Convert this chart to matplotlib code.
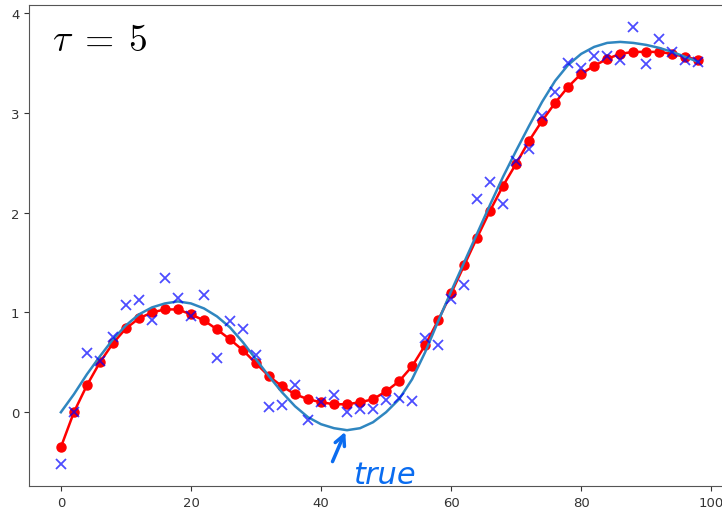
import matplotlib
matplotlib.use('Agg')
import matplotlib.pyplot as plt

# x grid and the three series
x = list(range(0, 100, 2))

noisy = [-0.52, 0.00, 0.59, 0.51, 0.75, 1.07, 1.12, 0.92, 1.34, 1.14,
         0.96, 1.17, 0.54, 0.91, 0.83, 0.57, 0.05, 0.07, 0.27, -0.08,
         0.10, 0.17, 0.00, 0.03, 0.03, 0.12, 0.14, 0.11, 0.74, 0.67,
         1.13, 1.27, 2.14, 2.31, 2.09, 2.52, 2.64, 2.97, 3.21, 3.50,
         3.45, 3.57, 3.57, 3.53, 3.86, 3.49, 3.74, 3.61, 3.53, 3.51]

smoothed = [-0.35, 0.00, 0.27, 0.50, 0.69, 0.84, 0.94, 1.00, 1.03, 1.03,
            0.98, 0.92, 0.83, 0.73, 0.62, 0.49, 0.36, 0.26, 0.18, 0.13,
            0.10, 0.08, 0.08, 0.10, 0.13, 0.21, 0.31, 0.46, 0.67, 0.92,
            1.19, 1.47, 1.75, 2.02, 2.27, 2.49, 2.72, 2.92, 3.10, 3.26,
            3.39, 3.47, 3.54, 3.59, 3.61, 3.61, 3.61, 3.59, 3.56, 3.53]

true_vals = [0.00, 0.18, 0.38, 0.56, 0.73, 0.87, 0.98, 1.05, 1.09, 1.11,
             1.09, 1.04, 0.96, 0.85, 0.70, 0.53, 0.36, 0.20, 0.06, -0.05,
             -0.12, -0.16, -0.18, -0.16, -0.10, 0.00, 0.13, 0.33, 0.60, 0.91,
             1.21, 1.50, 1.79, 2.08, 2.36, 2.62, 2.87, 3.11, 3.32, 3.48,
             3.59, 3.66, 3.70, 3.71, 3.70, 3.68, 3.65, 3.61, 3.56, 3.51]

fig = plt.figure(figsize=(7.22, 5.10), dpi=100)
ax = fig.add_axes([0.0402, 0.0451, 0.971, 0.943])

ax.plot(x, smoothed, 'o-', color='red', lw=1.8, ms=6.5)
ax.plot(x, true_vals, '-', color='#2f86c0', lw=1.8)
ax.plot(x, noisy, 'x', color='blue', alpha=0.7, ms=7, mew=1.3)

ax.set_xlim(-4.9, 102.9)
ax.set_ylim(-0.739, 4.079)
ax.set_xticks([0, 20, 40, 60, 80, 100])
ax.set_yticks([0, 1, 2, 3, 4])
ax.tick_params(labelsize=9.5, colors='#333333')
for side in ['left', 'bottom', 'top']:
    ax.spines[side].set_color('#555555')

plt.rcParams['mathtext.fontset'] = 'cm'
ax.text(0.033, 0.906, r'$\tau\;=\;5$', transform=ax.transAxes,
        fontsize=27, va='baseline', ha='left')

# hand-drawn note pointing at the true curve
ax.annotate('', xy=(43.9, -0.17), xytext=(41.6, -0.52),
            arrowprops=dict(arrowstyle='->', color='#0a6cf0', lw=2.5,
                            mutation_scale=18))
ax.text(49.8, -0.62, 'true', color='#0a6cf0', fontsize=22,
        ha='center', va='center', style='italic', clip_on=False)

fig.savefig('out.png', dpi=100)
